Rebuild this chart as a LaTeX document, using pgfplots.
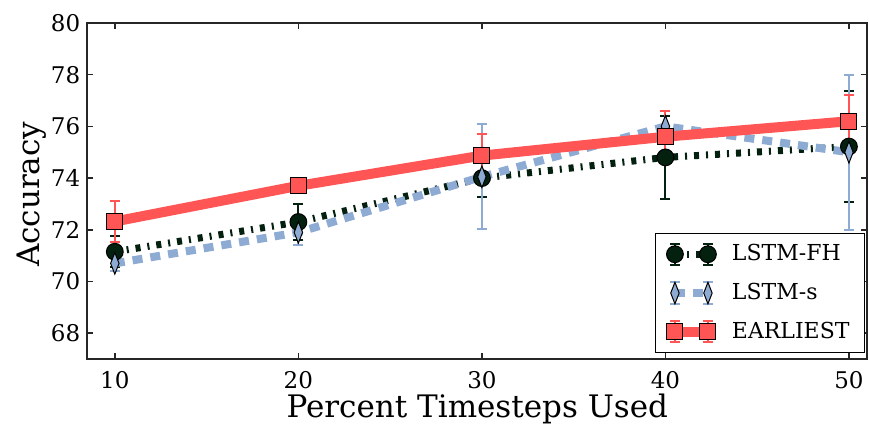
\documentclass[border=0pt]{standalone}
\usepackage{fontspec}
\setmainfont{DejaVu Serif}
\usepackage{pgfplots}
\pgfplotsset{compat=1.18}
\definecolor{fhgreen}{HTML}{04200F}
\definecolor{sblue}{HTML}{8EABD3}
\definecolor{ered}{HTML}{FF5555}

\begin{document}
\begin{tikzpicture}
\begin{axis}[
  scale only axis, width=390pt, height=168pt,
  xmin=8.5, xmax=51, ymin=67, ymax=80,
  xtick={10,20,30,40,50}, ytick={68,70,72,74,76,78,80},
  tick align=inside, major tick length=3pt,
  xtick pos=both, ytick pos=both,
  axis line style={line width=1pt, black!85},
  every tick/.style={black!85, line width=0.8pt},
  tick label style={font=\fontsize{11.5}{12}\selectfont},
  xticklabel style={yshift=-2.5pt},
  /pgf/number format/assume math mode=true,
  xlabel={Percent Timesteps Used}, ylabel={Accuracy},
  label style={font=\fontsize{15.5}{17}\selectfont},
  xlabel style={at={(axis description cs:0.5,0)}, anchor=base, yshift=-29pt},
  ylabel style={at={([xshift=-24pt]axis description cs:0,0.49)}, anchor=base},
  legend style={at={(0.997,0.018)}, anchor=south east, draw=black,
    font=\fontsize{11}{13}\selectfont, row sep=5.75pt, inner xsep=5.5pt, inner ysep=3.5pt},
  legend cell align=left,
  legend image code/.code={
    \draw[#1, solid, mark=none, line width=1pt] (0pt,-5.3pt) -- (0pt,5.3pt)
      (-2.5pt,-5.3pt) -- (2.5pt,-5.3pt) (-2.5pt,5.3pt) -- (2.5pt,5.3pt)
      (16.5pt,-5.3pt) -- (16.5pt,5.3pt)
      (14pt,-5.3pt) -- (19pt,-5.3pt) (14pt,5.3pt) -- (19pt,5.3pt);
    \draw[#1] plot coordinates {(0pt,0pt) (16.5pt,0pt)};
    \path (24pt,0pt);
  },
]
% LSTM-FH
\addplot[fhgreen, line width=3.5pt, dash pattern=on 2.5pt off 3.5pt on 1pt off 3.5pt,
  mark=*, mark size=4.2pt, mark options={solid, fill=fhgreen, draw=black, line width=0.5pt},
  error bars/.cd, y dir=both, y explicit,
  error bar style={solid, line width=1pt, fhgreen},
  error mark options={fhgreen, line width=1pt, mark size=2.5pt, rotate=90}]
  coordinates {(10,71.15) +- (0,0.6) (20,72.3) +- (0,0.7) (30,74.0) +- (0,0.75)
    (40,74.8) +- (0,1.6) (50,75.22) +- (0,2.15)};
\addlegendentry{LSTM-FH}
% LSTM-s
\addplot[sblue, line width=4pt, dash pattern=on 5pt off 4pt,
  mark=diamond*, mark size=5.4pt, mark options={solid, xscale=0.52, fill=sblue, draw=black, line width=0.5pt},
  error bars/.cd, y dir=both, y explicit,
  error bar style={solid, line width=1pt, sblue},
  error mark options={sblue, line width=1pt, mark size=2.5pt, rotate=90}]
  coordinates {(10,70.7) +- (0,0.3) (20,71.9) +- (0,0.5) (30,74.05) +- (0,2.03)
    (40,76.0) +- (0,0.6) (50,75.0) +- (0,3.0)};
\addlegendentry{LSTM-s}
% EARLIEST
\addplot[ered, line width=5pt,
  mark=square*, mark size=4pt, mark options={solid, fill=ered, draw=black, line width=0.5pt},
  error bars/.cd, y dir=both, y explicit,
  error bar style={solid, line width=1pt, ered},
  error mark options={ered, line width=1pt, mark size=2.5pt, rotate=90}]
  coordinates {(10,72.32) +- (0,0.8) (20,73.7) +- (0,0.25) (30,74.87) +- (0,0.85)
    (40,75.6) +- (0,1.0) (50,76.2) +- (0,1.0)};
\addlegendentry{EARLIEST}
\end{axis}
\pgfresetboundingbox
\path[use as bounding box] (-43.65pt,-33pt) rectangle (390.85pt,179.5pt);
\end{tikzpicture}
\end{document}
